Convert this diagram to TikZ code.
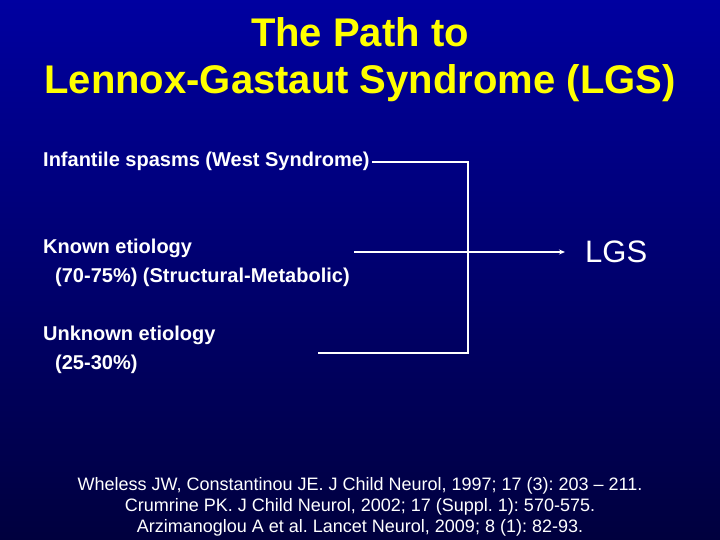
\documentclass[tikz,border=0pt]{standalone}
\usepackage{fontspec}
\setmainfont{Liberation Sans}
\usetikzlibrary{arrows.meta}
\definecolor{slidetop}{RGB}{0,0,160}
\definecolor{slidebot}{RGB}{0,0,62}
\definecolor{titleyellow}{RGB}{255,255,0}
\frenchspacing
\begin{document}
\begin{tikzpicture}[
    x=1pt, y=-1pt,
    heading/.style={anchor=base, inner sep=0pt, text=titleyellow,
                    font=\bfseries\fontsize{40}{46}\selectfont},
    item/.style={anchor=base west, inner sep=0pt, text=white,
                 font=\bfseries\fontsize{20}{24}\selectfont},
    result/.style={anchor=west, inner ysep=0pt, inner xsep=20pt, text=white,
                   font=\fontsize{31}{36}\selectfont},
    source/.style={anchor=base, inner sep=0pt, text=white,
                   font=\fontsize{18}{21}\selectfont},
    link/.style={draw=white, line width=2pt},
    arrowlink/.style={link, -{Stealth[length=6pt,width=5pt]}}
  ]
  \useasboundingbox (0,0) rectangle (720,540);
  \shade[top color=slidetop, bottom color=slidebot] (0,0) rectangle (720,540);

  % title
  \node[heading] (title1) at (360,47) {The Path to};
  \node[heading] (title2) at (360,94) {Lennox-Gastaut Syndrome (LGS)};

  % causes
  \node[item] (infant) at (43,167) {Infantile spasms (West Syndrome)};
  \node[item] (known) at (43,254) {Known etiology};
  \node[item] (knownpct) at (55,282) {(70-75\%) (Structural-Metabolic)};
  \node[item] (unknown) at (43,340) {Unknown etiology};
  \node[item] (unknownpct) at (55,369) {(25-30\%)};

  \node[result] (lgs) at (565,252) {LGS};

  \coordinate (jointop) at (468,162);
  \coordinate (joinbot) at (468,353);
  \coordinate (knownend) at (354,252);
  \coordinate (unknownend) at (318,353);

  \draw[link] ([xshift=2pt]infant.east) -- (infant.east -| jointop)
    -- (joinbot) -- (unknownend);
  \draw[arrowlink] (knownend) -- (lgs.west);

  % references
  \node[source] (ref1) at (360,490) {Wheless JW, Constantinou JE. J Child Neurol, 1997; 17 (3): 203 – 211.};
  \node[source] (ref2) at (360,511) {Crumrine PK. J Child Neurol, 2002; 17 (Suppl. 1): 570-575.};
  \node[source] (ref3) at (360,532) {Arzimanoglou A et al. Lancet Neurol, 2009; 8 (1): 82-93.};
\end{tikzpicture}
\end{document}
